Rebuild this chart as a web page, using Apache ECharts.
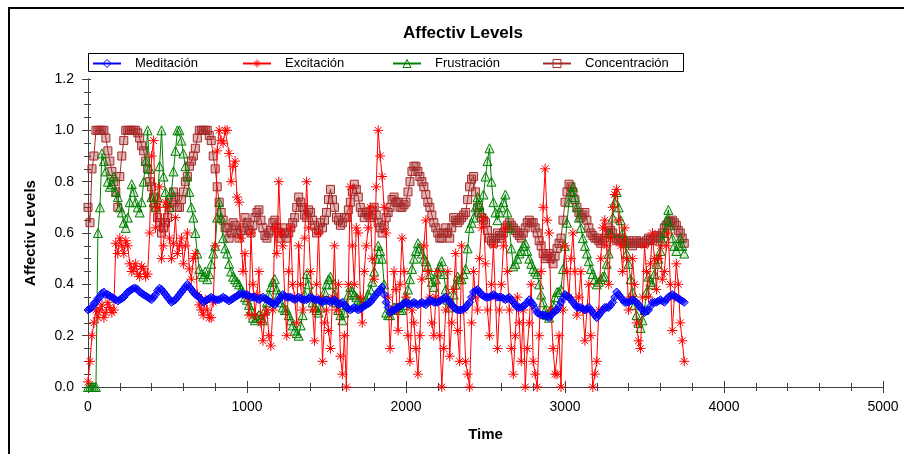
<!DOCTYPE html>
<html><head><meta charset="utf-8">
<script src="https://cdn.jsdelivr.net/npm/echarts@6/dist/echarts.min.js"></script>
<style>html,body{margin:0;padding:0;background:#fff}#c{width:904px;height:454px}</style>
</head><body><div id="c"></div>
<script>
const chartTitle = 'Affectiv Levels';
const xTitle = 'Time';
const yTitle = 'Affectiv Levels';
const seriesNames = ['Meditación', 'Excitación', 'Frustración', 'Concentración'];
const xRange = [0, 5000];
const yRange = [0, 1.2];

const sampleTimes = [
  0,12.5,25,37.5,50,62.5,75,87.5,100,112.5,125,137.5,150,162.5,175,187.5,200,212.5,225,237.5,
  250,262.5,275,287.5,300,312.5,325,337.5,350,362.5,375,387.5,400,412.5,425,437.5,450,462.5,475,487.5,
  500,512.5,525,537.5,550,562.5,575,587.5,600,612.5,625,637.5,650,662.5,675,687.5,700,712.5,725,737.5,
  750,762.5,775,787.5,800,812.5,825,837.5,850,862.5,875,887.5,900,912.5,925,937.5,950,962.5,975,987.5,
  1000,1012.5,1025,1037.5,1050,1062.5,1075,1087.5,1100,1112.5,1125,1137.5,1150,1162.5,1175,1187.5,1200,1212.5,1225,1237.5,
  1250,1262.5,1275,1287.5,1300,1312.5,1325,1337.5,1350,1362.5,1375,1387.5,1400,1412.5,1425,1437.5,1450,1462.5,1475,1487.5,
  1500,1512.5,1525,1537.5,1550,1562.5,1575,1587.5,1600,1612.5,1625,1637.5,1650,1662.5,1675,1687.5,1700,1712.5,1725,1737.5,
  1750,1762.5,1775,1787.5,1800,1812.5,1825,1837.5,1850,1862.5,1875,1887.5,1900,1912.5,1925,1937.5,1950,1962.5,1975,1987.5,
  2000,2012.5,2025,2037.5,2050,2062.5,2075,2087.5,2100,2112.5,2125,2137.5,2150,2162.5,2175,2187.5,2200,2212.5,2225,2237.5,
  2250,2262.5,2275,2287.5,2300,2312.5,2325,2337.5,2350,2362.5,2375,2387.5,2400,2412.5,2425,2437.5,2450,2462.5,2475,2487.5,
  2500,2512.5,2525,2537.5,2550,2562.5,2575,2587.5,2600,2612.5,2625,2637.5,2650,2662.5,2675,2687.5,2700,2712.5,2725,2737.5,
  2750,2762.5,2775,2787.5,2800,2812.5,2825,2837.5,2850,2862.5,2875,2887.5,2900,2912.5,2925,2937.5,2950,2962.5,2975,2987.5,
  3000,3012.5,3025,3037.5,3050,3062.5,3075,3087.5,3100,3112.5,3125,3137.5,3150,3162.5,3175,3187.5,3200,3212.5,3225,3237.5,
  3250,3262.5,3275,3287.5,3300,3312.5,3325,3337.5,3350,3362.5,3375,3387.5,3400,3412.5,3425,3437.5,3450,3462.5,3475,3487.5,
  3500,3512.5,3525,3537.5,3550,3562.5,3575,3587.5,3600,3612.5,3625,3637.5,3650,3662.5,3675,3687.5,3700,3712.5,3725,3737.5,
  3750
];

const meditacion = [
  0.30,0.305,0.31,0.325,0.33,0.345,0.35,0.365,0.37,0.36,0.36,0.355,0.35,0.345,0.34,0.335,0.34,0.345,0.35,0.36,
  0.37,0.375,0.38,0.385,0.385,0.38,0.37,0.365,0.36,0.355,0.35,0.345,0.34,0.35,0.36,0.375,0.385,0.38,0.37,0.36,
  0.35,0.34,0.33,0.335,0.34,0.35,0.36,0.37,0.38,0.39,0.40,0.39,0.38,0.37,0.36,0.355,0.35,0.34,0.33,0.335,
  0.34,0.345,0.35,0.345,0.34,0.34,0.34,0.345,0.35,0.345,0.34,0.335,0.34,0.345,0.35,0.355,0.36,0.365,0.36,0.36,
  0.36,0.355,0.35,0.35,0.35,0.345,0.34,0.345,0.35,0.345,0.34,0.335,0.33,0.325,0.32,0.33,0.34,0.35,0.36,0.355,
  0.35,0.35,0.35,0.345,0.34,0.345,0.35,0.345,0.34,0.34,0.34,0.345,0.35,0.345,0.34,0.34,0.34,0.335,0.33,0.335,
  0.34,0.335,0.33,0.335,0.34,0.33,0.32,0.325,0.33,0.32,0.31,0.305,0.30,0.305,0.31,0.305,0.30,0.305,0.31,0.315,
  0.32,0.325,0.33,0.34,0.35,0.36,0.37,0.38,0.39,0.36,0.33,0.31,0.29,0.295,0.30,0.305,0.31,0.315,0.32,0.325,
  0.33,0.325,0.32,0.325,0.33,0.325,0.32,0.325,0.33,0.325,0.32,0.33,0.34,0.335,0.33,0.33,0.33,0.335,0.34,0.345,
  0.35,0.34,0.33,0.32,0.31,0.305,0.30,0.30,0.30,0.305,0.31,0.32,0.33,0.35,0.37,0.375,0.38,0.37,0.36,0.355,
  0.35,0.35,0.35,0.355,0.36,0.355,0.35,0.35,0.35,0.345,0.34,0.345,0.35,0.34,0.33,0.32,0.31,0.31,0.31,0.315,
  0.32,0.33,0.34,0.33,0.32,0.305,0.29,0.285,0.28,0.28,0.28,0.275,0.27,0.28,0.29,0.295,0.30,0.315,0.33,0.345,
  0.36,0.355,0.35,0.34,0.33,0.32,0.31,0.31,0.31,0.305,0.30,0.305,0.31,0.30,0.29,0.28,0.27,0.28,0.29,0.30,
  0.31,0.31,0.31,0.32,0.33,0.35,0.37,0.36,0.35,0.34,0.33,0.33,0.33,0.335,0.34,0.335,0.33,0.32,0.31,0.30,
  0.29,0.295,0.30,0.315,0.33,0.33,0.33,0.335,0.34,0.335,0.33,0.34,0.35,0.355,0.36,0.355,0.35,0.345,0.34,0.335,
  0.33
];

const excitacion = [
  0.02,0.10,0.20,0.25,0.30,0.27,0.30,0.32,0.27,0.29,0.33,0.31,0.29,0.30,0.56,0.52,0.58,0.55,0.52,0.57,
  0.55,0.48,0.45,0.46,0.48,0.44,0.43,0.47,0.46,0.43,0.44,0.60,0.90,0.96,0.62,0.70,0.78,0.50,0.55,0.72,
  0.70,0.58,0.50,0.56,0.66,0.52,0.55,0.58,0.48,0.55,0.60,0.46,0.42,0.50,0.52,0.36,0.32,0.30,0.28,0.34,
  0.30,0.27,0.27,0.33,0.55,0.92,1.00,0.96,0.95,1.00,1.00,0.91,0.80,0.86,0.88,0.74,0.72,0.58,0.45,0.52,
  0.35,0.28,0.60,0.40,0.28,0.36,0.45,0.25,0.18,0.28,0.30,0.20,0.16,0.30,0.62,0.52,0.80,0.60,0.55,0.35,
  0.20,0.45,0.62,0.40,0.35,0.25,0.55,0.40,0.30,0.58,0.80,0.62,0.45,0.30,0.18,0.40,0.60,0.35,0.10,0.25,
  0.30,0.22,0.15,0.35,0.55,0.30,0.40,0.12,0.05,0.20,0.00,0.40,0.78,0.55,0.40,0.62,0.60,0.35,0.25,0.45,
  0.55,0.62,0.70,0.50,0.42,0.78,1.00,0.90,0.82,0.70,0.60,0.35,0.15,0.30,0.45,0.38,0.22,0.40,0.58,0.45,
  0.35,0.20,0.10,0.30,0.25,0.15,0.05,0.20,0.42,0.55,0.65,0.45,0.35,0.25,0.20,0.35,0.45,0.20,0.00,0.15,
  0.30,0.45,0.12,0.25,0.38,0.52,0.22,0.10,0.55,0.30,0.10,0.05,0.00,0.25,0.45,0.35,0.30,0.50,0.62,0.66,
  0.48,0.30,0.20,0.40,0.55,0.35,0.15,0.30,0.40,0.55,0.62,0.45,0.30,0.15,0.05,0.20,0.35,0.25,0.10,0.30,
  0.00,0.15,0.25,0.40,0.10,0.05,0.00,0.20,0.45,0.70,0.85,0.65,0.60,0.30,0.15,0.05,0.05,0.20,0.00,0.30,
  0.55,0.45,0.35,0.50,0.60,0.45,0.28,0.35,0.45,0.30,0.18,0.30,0.40,0.20,0.00,0.05,0.10,0.30,0.50,0.62,
  0.65,0.55,0.40,0.58,0.70,0.75,0.77,0.65,0.55,0.45,0.62,0.50,0.30,0.35,0.50,0.40,0.25,0.18,0.15,0.35,
  0.55,0.45,0.35,0.48,0.60,0.50,0.38,0.50,0.55,0.42,0.45,0.55,0.60,0.40,0.22,0.35,0.48,0.40,0.25,0.18,
  0.10
];

const frustracion = [
  0.00,0.00,0.00,0.00,0.00,0.60,0.70,0.91,0.88,0.84,0.80,0.78,0.79,0.82,0.76,0.74,0.70,0.68,0.64,0.62,
  0.66,0.72,0.79,0.76,0.72,0.70,0.68,0.72,0.80,0.88,1.00,0.85,0.74,0.72,0.70,0.74,0.86,1.00,0.82,0.76,
  0.72,0.70,0.76,0.84,0.92,1.00,1.00,0.96,0.91,0.86,0.82,0.76,0.70,0.66,0.60,0.52,0.46,0.44,0.43,0.45,
  0.42,0.44,0.48,0.52,0.55,0.66,0.72,0.66,0.58,0.54,0.52,0.48,0.45,0.43,0.42,0.41,0.40,0.38,0.37,0.35,
  0.34,0.32,0.30,0.27,0.26,0.27,0.28,0.27,0.26,0.30,0.33,0.36,0.39,0.41,0.42,0.38,0.36,0.33,0.31,0.30,
  0.30,0.28,0.26,0.24,0.22,0.21,0.20,0.24,0.28,0.36,0.44,0.40,0.36,0.33,0.31,0.30,0.29,0.31,0.34,0.37,
  0.40,0.42,0.43,0.40,0.36,0.33,0.30,0.28,0.26,0.29,0.32,0.36,0.39,0.37,0.36,0.35,0.34,0.33,0.33,0.33,
  0.34,0.36,0.38,0.41,0.45,0.50,0.55,0.53,0.50,0.40,0.29,0.28,0.28,0.30,0.31,0.31,0.31,0.30,0.30,0.32,
  0.35,0.38,0.42,0.46,0.50,0.53,0.56,0.54,0.52,0.50,0.49,0.47,0.44,0.41,0.39,0.42,0.45,0.47,0.49,0.44,
  0.38,0.34,0.31,0.33,0.36,0.40,0.43,0.42,0.42,0.44,0.46,0.54,0.62,0.64,0.66,0.70,0.74,0.71,0.68,0.75,
  0.82,0.88,0.93,0.80,0.72,0.68,0.65,0.68,0.70,0.72,0.75,0.68,0.62,0.54,0.47,0.48,0.50,0.52,0.53,0.55,
  0.56,0.53,0.50,0.48,0.46,0.45,0.44,0.40,0.36,0.33,0.30,0.28,0.27,0.30,0.32,0.35,0.37,0.37,0.38,0.46,
  0.55,0.64,0.72,0.76,0.78,0.74,0.70,0.66,0.62,0.58,0.55,0.52,0.49,0.46,0.44,0.42,0.40,0.41,0.42,0.43,
  0.43,0.48,0.52,0.60,0.66,0.72,0.76,0.70,0.65,0.60,0.56,0.52,0.48,0.42,0.37,0.32,0.28,0.25,0.23,0.26,
  0.30,0.37,0.43,0.41,0.40,0.44,0.48,0.50,0.53,0.57,0.60,0.65,0.69,0.63,0.58,0.55,0.53,0.55,0.58,0.55,
  0.52
];

const concentracion = [
  0.70,0.64,0.85,0.90,1.00,1.00,1.00,1.00,1.00,0.97,0.92,0.88,0.84,0.80,0.76,0.70,0.82,0.90,0.96,1.00,
  1.00,1.00,1.00,1.00,1.00,0.99,0.97,0.94,0.92,0.88,0.85,0.80,0.78,0.74,0.70,0.66,0.64,0.60,0.62,0.64,
  0.66,0.70,0.72,0.76,0.74,0.70,0.70,0.73,0.76,0.80,0.82,0.86,0.88,0.90,0.93,0.97,1.00,1.00,1.00,1.00,
  1.00,0.98,0.96,0.90,0.85,0.78,0.72,0.68,0.65,0.62,0.62,0.58,0.60,0.64,0.63,0.60,0.58,0.61,0.62,0.66,
  0.64,0.61,0.60,0.63,0.66,0.68,0.69,0.65,0.62,0.59,0.58,0.60,0.61,0.64,0.65,0.62,0.60,0.58,0.62,0.60,
  0.58,0.60,0.62,0.64,0.66,0.70,0.74,0.72,0.70,0.67,0.66,0.69,0.68,0.65,0.63,0.60,0.61,0.64,0.62,0.65,
  0.68,0.73,0.77,0.73,0.70,0.66,0.65,0.63,0.64,0.66,0.66,0.69,0.72,0.76,0.79,0.77,0.74,0.70,0.68,0.66,
  0.68,0.67,0.66,0.69,0.70,0.67,0.64,0.62,0.60,0.63,0.66,0.68,0.70,0.73,0.74,0.72,0.72,0.70,0.70,0.71,
  0.72,0.76,0.80,0.84,0.86,0.86,0.84,0.82,0.80,0.78,0.75,0.72,0.70,0.67,0.64,0.62,0.60,0.58,0.58,0.60,
  0.62,0.60,0.58,0.62,0.66,0.65,0.64,0.65,0.66,0.67,0.68,0.73,0.78,0.81,0.82,0.76,0.70,0.68,0.66,0.65,
  0.64,0.61,0.58,0.57,0.56,0.58,0.60,0.59,0.58,0.60,0.62,0.63,0.64,0.63,0.62,0.61,0.60,0.59,0.58,0.60,
  0.62,0.64,0.65,0.64,0.64,0.62,0.60,0.57,0.55,0.52,0.50,0.51,0.52,0.50,0.48,0.51,0.54,0.56,0.58,0.65,
  0.72,0.76,0.79,0.78,0.76,0.73,0.70,0.68,0.66,0.67,0.68,0.65,0.62,0.60,0.59,0.58,0.58,0.57,0.56,0.57,
  0.58,0.60,0.62,0.61,0.60,0.58,0.57,0.575,0.58,0.57,0.56,0.565,0.57,0.56,0.55,0.56,0.57,0.565,0.56,0.56,
  0.56,0.57,0.58,0.575,0.57,0.58,0.59,0.585,0.58,0.60,0.62,0.63,0.64,0.645,0.65,0.64,0.63,0.61,0.60,0.58,
  0.56
];

const seriesColors = ['#0000ff', '#ff0000', '#008000', '#a52a2a'];

const FONT = '"Liberation Sans", Arial, Helvetica, sans-serif';
const AXIS_COLOR = '#404040';
const pairs = vals => vals.map((v, i) => [sampleTimes[i], v]);
const asterisk = 'path://M5,0L5,10M0,5L10,5M1.6,1.6L8.4,8.4M1.6,8.4L8.4,1.6';

function mkSeries(name, vals, color, fill, symbol, size, z) {
  return {
    name, type: 'line', data: pairs(vals), xAxisIndex: 0, yAxisIndex: 0,
    symbol, symbolSize: size, showAllSymbol: true, z, sampling: null,
    lineStyle: { color, width: 1 },
    itemStyle: { color: fill, borderColor: color, borderWidth: 1 },
    emphasis: { disabled: true }
  };
}

const legendLefts = [92, 242, 392, 542];
const legends = seriesNames.map((n, i) => ({
  data: [n], left: legendLefts[i], top: 57, orient: 'horizontal', padding: 0,
  itemWidth: 28, itemHeight: 10, selectedMode: false,
  itemStyle: { color: 'rgba(255,255,255,0)', borderWidth: 1 },
  textStyle: { fontFamily: FONT, fontSize: 13, color: '#000', padding: [0, 0, 0, 9] }
}));

const chart = echarts.init(document.getElementById('c'), null, { renderer: 'canvas' });
const gridRect = { left: 88, top: 79, width: 795, height: 308 };
chart.setOption({
  animation: false,
  backgroundColor: '#fff',
  textStyle: { fontFamily: FONT },
  title: {
    text: chartTitle, left: 398, top: 20,
    textStyle: { fontFamily: FONT, fontSize: 17, fontWeight: 'bold', color: '#000' }
  },
  graphic: [
    {
      type: 'rect', silent: true, z: -1,
      shape: { x: 9, y: 8, width: 1200, height: 800 },
      style: { fill: 'none', stroke: '#000', lineWidth: 2 }
    },
    {
      type: 'rect', silent: true, z: -1,
      shape: { x: 88.5, y: 53.5, width: 595, height: 18 },
      style: { fill: '#fff', stroke: '#000', lineWidth: 1 }
    }
  ],
  legend: legends,
  grid: [
    Object.assign({ id: 'g0' }, gridRect),
    Object.assign({ id: 'g1' }, gridRect)
  ],
  xAxis: [
    {
      gridIndex: 0, type: 'value', position: 'bottom', min: xRange[0], max: xRange[1], interval: 1000,
      name: xTitle, nameLocation: 'middle', nameGap: 40,
      nameTextStyle: { fontFamily: FONT, fontSize: 15, fontWeight: 'bold', color: '#000' },
      axisLine: { show: true, lineStyle: { color: AXIS_COLOR, width: 1 } },
      axisTick: { show: true, inside: false, length: 6, lineStyle: { color: AXIS_COLOR } },
      axisLabel: { fontFamily: FONT, fontSize: 14, color: '#000', margin: 13, formatter: v => String(v) },
      splitLine: { show: false }
    },
    {
      gridIndex: 0, type: 'value', position: 'top', min: xRange[0], max: xRange[1], interval: 200,
      axisLine: { show: true, lineStyle: { color: AXIS_COLOR, width: 1 } },
      axisTick: { show: true, inside: true, length: 4, lineStyle: { color: AXIS_COLOR } },
      axisLabel: { show: false }, splitLine: { show: false }
    },
    {
      gridIndex: 1, type: 'value', position: 'bottom', min: xRange[0], max: xRange[1], interval: 1000,
      axisLine: { show: false },
      axisTick: { show: true, inside: true, length: 6, lineStyle: { color: AXIS_COLOR } },
      minorTick: { show: true, splitNumber: 5, length: 4, lineStyle: { color: AXIS_COLOR } },
      axisLabel: { show: false }, splitLine: { show: false }
    }
  ],
  yAxis: [
    {
      gridIndex: 0, type: 'value', position: 'left', min: yRange[0], max: yRange[1], interval: 0.2,
      name: yTitle, nameLocation: 'middle', nameGap: 50, nameRotate: 90,
      nameTextStyle: { fontFamily: FONT, fontSize: 15, fontWeight: 'bold', color: '#000' },
      axisLine: { show: true, lineStyle: { color: AXIS_COLOR, width: 1 } },
      axisTick: { show: true, inside: false, length: 6, lineStyle: { color: AXIS_COLOR } },
      axisLabel: { fontFamily: FONT, fontSize: 14, color: '#000', margin: 14, formatter: v => v.toFixed(1) },
      splitLine: { show: false }
    },
    {
      gridIndex: 0, type: 'value', position: 'right', min: yRange[0], max: yRange[1], interval: 0.05,
      axisLine: { show: true, lineStyle: { color: AXIS_COLOR, width: 1 } },
      axisTick: { show: true, inside: true, length: 4, lineStyle: { color: AXIS_COLOR } },
      axisLabel: { show: false }, splitLine: { show: false }
    },
    {
      gridIndex: 1, type: 'value', position: 'left', min: yRange[0], max: yRange[1], interval: 0.2,
      axisLine: { show: false },
      axisTick: { show: true, inside: true, length: 3, lineStyle: { color: AXIS_COLOR } },
      minorTick: { show: true, splitNumber: 4, length: 3, lineStyle: { color: AXIS_COLOR } },
      axisLabel: { show: false }, splitLine: { show: false }
    }
  ],
  series: [
    mkSeries(seriesNames[3], concentracion, seriesColors[3], 'rgba(165,42,42,0.35)', 'rect', 8, 2),
    mkSeries(seriesNames[2], frustracion, seriesColors[2], 'rgba(0,128,0,0.15)', 'triangle', 9, 3),
    mkSeries(seriesNames[1], excitacion, seriesColors[1], 'rgba(0,0,0,0)', asterisk, 10, 4),
    mkSeries(seriesNames[0], meditacion, seriesColors[0], 'rgba(0,0,255,0.55)', 'diamond', 8, 5)
  ]
});
</script>
</body></html>
